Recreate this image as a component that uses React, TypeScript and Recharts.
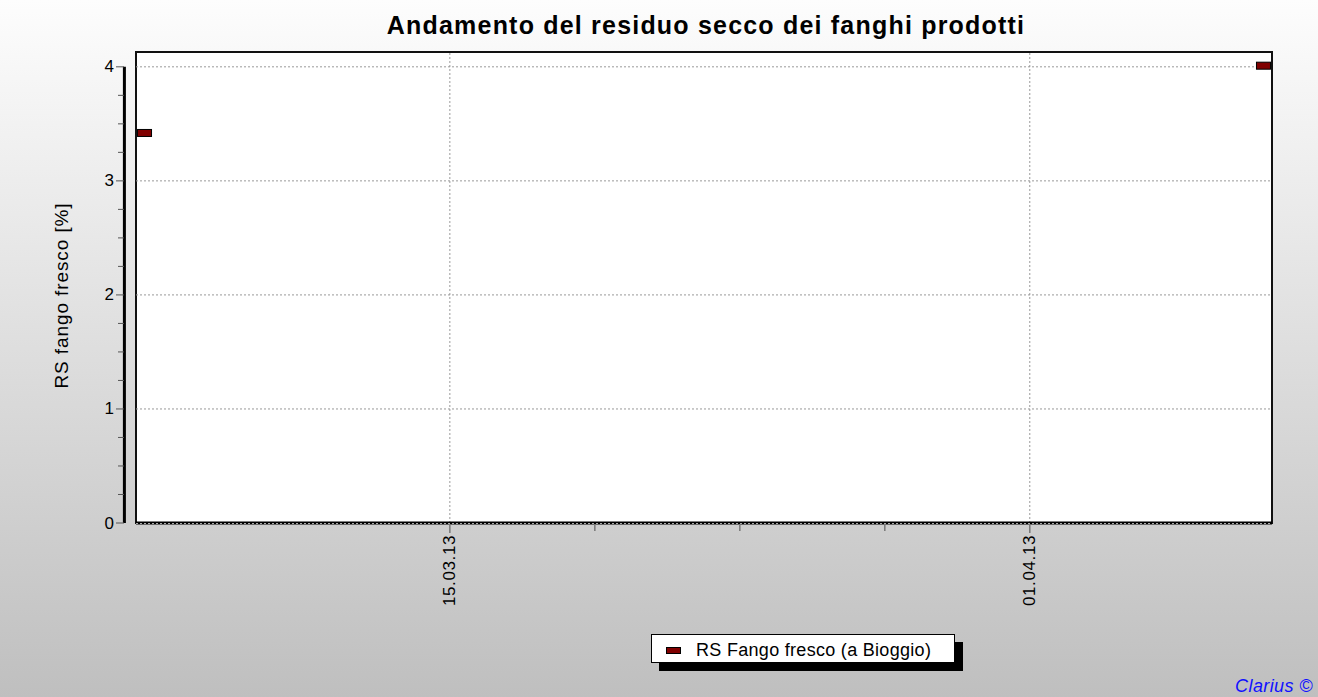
import React from 'react';
import {
  ScatterChart,
  Scatter,
  XAxis,
  YAxis,
  ReferenceLine,
  ReferenceArea,
} from 'recharts';

// days counted from 01.03.13 (day 0)
const sampleDays = [5.05, 37.85];
const sampleValues = [3.42, 4.01];
const seriesName = 'RS Fango fresco (a Bioggio)';

const xDomain = [4.8, 38.1];
const xTicks = [14, 18.25, 22.5, 26.75, 31];
const xTickLabels: Record<number, string> = { 14: '15.03.13', 31: '01.04.13' };
const xGrid = [14, 31];

const yDomain = [0, 4.13];
const yTicks = [0, 0.25, 0.5, 0.75, 1, 1.25, 1.5, 1.75, 2, 2.25, 2.5, 2.75, 3, 3.25, 3.5, 3.75, 4];
const yGrid = [1, 2, 3, 4];
const yAxisLinePos = 4.46;

const data = sampleDays.map((d, i) => ({ x: d, y: sampleValues[i] }));

const FONT = "Arial, 'Liberation Sans', sans-serif";
const MARKER = '#800000';

const Marker = (props: any) => {
  const { cx, cy } = props;
  if (cx == null || cy == null) return null;
  return <rect x={cx - 7} y={cy - 3.5} width={14} height={7} fill={MARKER} stroke="#000" strokeWidth={1} />;
};

const YTick = (props: any) => {
  const { x, y, payload } = props;
  const major = Number.isInteger(payload.value);
  return (
    <g>
      <line x1={x - (major ? 20 : 18)} x2={x - 12} y1={y} y2={y} stroke="#555" strokeWidth={1} />
      {major && (
        <text x={x - 22} y={y} textAnchor="end" dominantBaseline="central" fontSize={17} fill="#000" fontFamily={FONT}>
          {payload.value}
        </text>
      )}
    </g>
  );
};

const XTick = (props: any) => {
  const { x, y, payload } = props;
  const label = xTickLabels[payload.value];
  return (
    <g>
      <line x1={x} x2={x} y1={y + 1} y2={y + (label ? 10 : 8)} stroke="#777" strokeWidth={1.5} />
      {label && (
        <text
          transform={`translate(${x}, ${y + 12}) rotate(-90)`}
          textAnchor="end"
          dominantBaseline="central"
          fontSize={17}
          letterSpacing={0.6}
          fill="#000"
          fontFamily={FONT}
        >
          {label}
        </text>
      )}
    </g>
  );
};

const YLabel = (props: any) => {
  const { viewBox } = props;
  const cy = viewBox.y + viewBox.height / 2 + 8;
  return (
    <text
      transform={`translate(68, ${cy}) rotate(-90)`}
      textAnchor="middle"
      fontSize={19}
      letterSpacing={0.9}
      fill="#000"
      fontFamily={FONT}
    >
      RS fango fresco [%]
    </text>
  );
};

export default function App() {
  return (
    <div
      style={{
        position: 'absolute',
        left: 0,
        top: 0,
        width: 1318,
        height: 697,
        overflow: 'hidden',
        background: 'linear-gradient(#fdfdfd, #bfbfbf)',
        fontFamily: FONT,
      }}
    >
      <ScatterChart width={1318} height={697} margin={{ top: 52, right: 46, bottom: 134, left: 0 }}>
        <XAxis
          type="number"
          dataKey="x"
          domain={xDomain}
          ticks={xTicks}
          allowDataOverflow
          tick={<XTick />}
          tickLine={false}
          tickSize={0}
          tickMargin={0}
          height={40}
          axisLine={{ stroke: '#000', strokeWidth: 3 }}
          interval={0}
        />
        <YAxis
          type="number"
          dataKey="y"
          domain={yDomain}
          ticks={yTicks}
          allowDataOverflow
          width={136}
          tick={<YTick />}
          tickLine={false}
          tickSize={0}
          tickMargin={0}
          axisLine={false}
          interval={0}
          label={<YLabel />}
        />
        <ReferenceArea
          x1={xDomain[0]}
          x2={xDomain[1]}
          y1={yDomain[0]}
          y2={yDomain[1]}
          fill="#fff"
          fillOpacity={1}
          stroke="#111"
          strokeWidth={2}
          ifOverflow="visible"
        />
        {yGrid.map((v) => (
          <ReferenceLine key={`y${v}`} y={v} stroke="#999" strokeDasharray="2 2" strokeWidth={1} />
        ))}
        {xGrid.map((v) => (
          <ReferenceLine key={`x${v}`} x={v} stroke="#999" strokeDasharray="2 2" strokeWidth={1} />
        ))}
        <ReferenceLine
          segment={[
            { x: yAxisLinePos, y: 0 },
            { x: yAxisLinePos, y: 4 },
          ]}
          stroke="#000"
          strokeWidth={3}
          ifOverflow="visible"
        />
        <Scatter name={seriesName} data={data} shape={<Marker />} isAnimationActive={false} />
      </ScatterChart>
      <svg width={1318} height={697} style={{ position: 'absolute', left: 0, top: 0, pointerEvents: 'none' }}>
        <line x1={136} x2={1272} y1={523.5} y2={523.5} stroke="#aaa" strokeWidth={1} strokeDasharray="2 2" />
        <text x={706} y={34} textAnchor="middle" fontSize={25} fontWeight="bold" letterSpacing={1.2} fill="#000" fontFamily={FONT}>
          Andamento del residuo secco dei fanghi prodotti
        </text>
        <rect x={659} y={642} width={304} height={29} fill="#000" />
        <rect x={651.5} y={634.5} width={303} height={28} fill="#fff" stroke="#000" strokeWidth={1} />
        <rect x={666.5} y={647.5} width={14} height={6} fill={MARKER} stroke="#000" strokeWidth={1} />
        <text x={696} y={656} fontSize={18} letterSpacing={0.3} fill="#000" fontFamily={FONT}>
          {seriesName}
        </text>
        <text x={1313} y={692} textAnchor="end" fontSize={18} fontStyle="italic" letterSpacing={0.4} fill="#1010ff" fontFamily={FONT}>
          Clarius ©
        </text>
      </svg>
    </div>
  );
}
